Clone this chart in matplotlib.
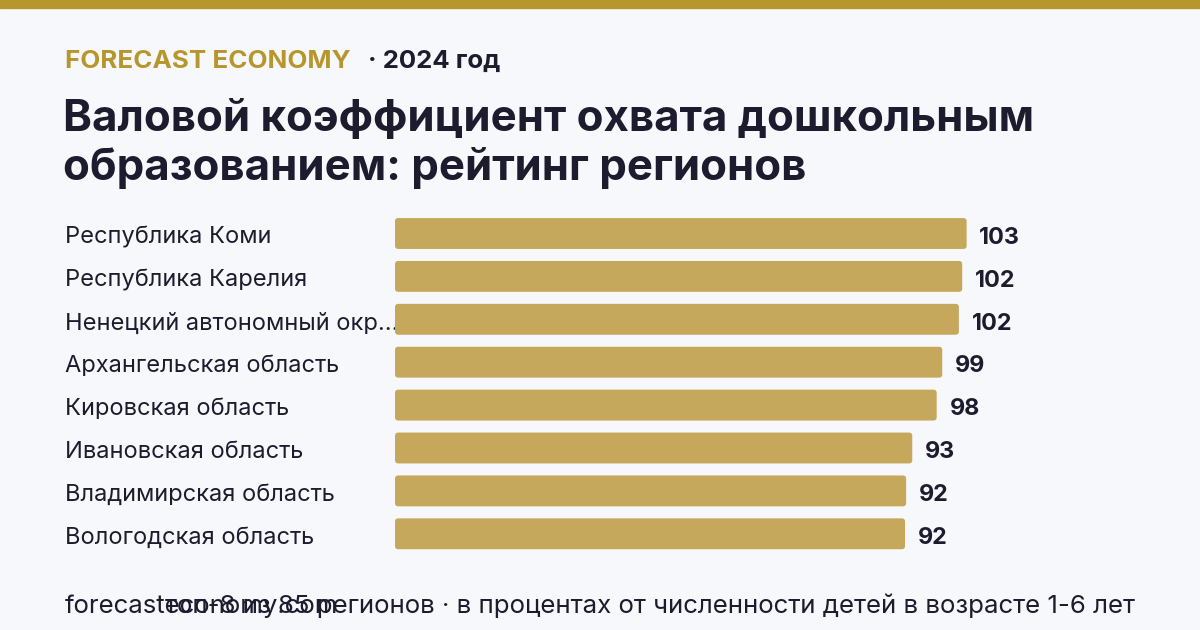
import matplotlib.pyplot as plt
from matplotlib.patches import FancyBboxPatch, Rectangle
from matplotlib.transforms import blended_transform_factory

regions = [
    "Республика Коми",
    "Республика Карелия",
    "Ненецкий автономный окр...",
    "Архангельская область",
    "Кировская область",
    "Ивановская область",
    "Владимирская область",
    "Вологодская область",
]
values = [103.0, 102.2, 101.6, 98.6, 97.6, 93.2, 92.1, 91.9]

title = "Валовой коэффициент охвата дошкольным\nобразованием: рейтинг регионов"
brand = "FORECAST ECONOMY"
year = "· 2024 год"
site = "forecasteconomy.com"
note = "топ-8 из 85 регионов · в процентах от численности детей в возрасте 1-6 лет"

BG = "#F7F8FC"
GOLD = "#B8962E"
BAR = "#C5A85C"
DARK = "#1C1C2E"

plt.rcParams["font.family"] = ["Inter", "DejaVu Sans"]

W, H = 1200, 630
fig = plt.figure(figsize=(W / 100, H / 100), dpi=100, facecolor=BG)

def px(x, y):
    # pixel coords (top-left origin) -> figure fraction
    return x / W, 1 - y / H

# top gold strip
fig.patches.append(Rectangle((0, 1 - 8 / H), 1, 8 / H, transform=fig.transFigure,
                             color=GOLD, zorder=0))

fig.text(*px(65, 61), brand, color=GOLD, fontsize=18.7, fontweight="bold", va="center")
fig.text(*px(368, 61), year, color=DARK, fontsize=18.5, fontweight="bold", va="center")
fig.text(*px(63, 144), title, color=DARK, fontsize=31.5, fontweight="bold",
         va="center", linespacing=1.22)

# bar area: x from 395px, 5.55 px per unit; rows 42.9 px apart, first centred at 233.5
x0, x1 = 395, 1135
pitch = 42.9
top = 233.5 - pitch / 2
n = len(values)
l, b = px(x0, top + pitch * n)
ax = fig.add_axes([l, b, (x1 - x0) / W, pitch * n / H])
ax.set_facecolor("none")
ax.set_xlim(0, (x1 - x0) / 5.55)
ax.set_ylim(n - 0.5, -0.5)
ax.axis("off")

bars = ax.barh(range(n), values, height=0.72, color=BAR)
aspect = 5.55 / 42.9
for rect in bars:
    rect.set_visible(False)
    ax.add_patch(FancyBboxPatch((rect.get_x(), rect.get_y()), rect.get_width(), rect.get_height(),
                                boxstyle="round,pad=0,rounding_size=0.6",
                                mutation_aspect=aspect, color=BAR, lw=0, zorder=2))

lab_tf = blended_transform_factory(fig.transFigure, ax.transData)
for i, (name, v) in enumerate(zip(regions, values)):
    ax.text(65 / W, i + 0.1, name, transform=lab_tf, ha="left", va="center",
            fontsize=17, color=DARK, zorder=1, clip_on=False)
    ax.text(v + 2.3, i + 0.1, f"{v:.0f}", ha="left", va="center", fontsize=16.8,
            fontweight="bold", color=DARK)

fig.text(*px(65, 606), site, color=DARK, fontsize=18.6, va="center")
fig.text(*px(165, 606), note, color=DARK, fontsize=18.6, va="center")

fig.savefig("out.png", dpi=100, facecolor=BG)
